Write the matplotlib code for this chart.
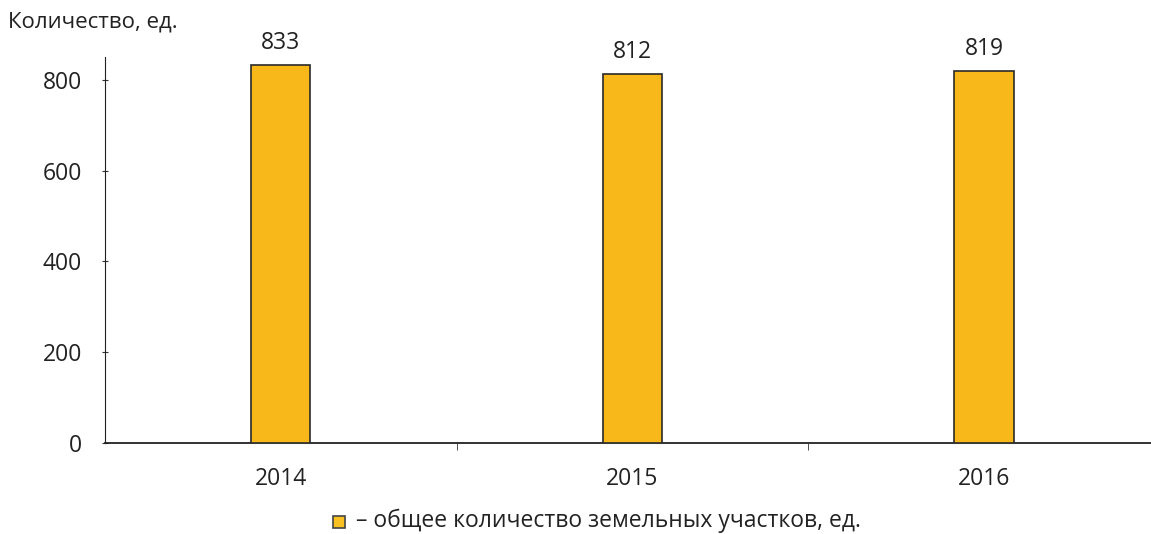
import matplotlib
matplotlib.use("Agg")
import matplotlib.pyplot as plt
from matplotlib.patches import Rectangle

years = ["2014", "2015", "2016"]
values = [833, 812, 819]
yticks = [0, 200, 400, 600, 800]
ylabel = "Количество, ед."
legend_label = "– общее количество земельных участков, ед."

plt.rcParams['font.family'] = ['Open Sans', 'DejaVu Sans']

fig = plt.figure(figsize=(11.51, 5.34), dpi=100)
ax = fig.add_axes([105/1151, (534-443)/534, (1151-105)/1151, (443-57)/534])

x = list(range(len(years)))
bars = ax.bar(x, values, width=0.168, color="#F8B819", edgecolor="#2a2a2a", linewidth=1.2, zorder=3)
for xi, v in zip(x, values):
    ax.text(xi, v + 22, str(v), ha="center", va="bottom", fontsize=16.5, color="#222222")

ax.set_xlim(-0.5, 2.475)
ax.set_ylim(0, 850)
ax.set_yticks(yticks)
ax.set_xticks(x)
ax.set_xticklabels(years)
ax.set_xticks([0.5, 1.5], minor=True)
ax.tick_params(axis="x", which="major", length=0, pad=17, labelsize=16.5, labelcolor="#222222")
ax.tick_params(axis="x", which="minor", length=5, direction="out", color="#333333")
ax.tick_params(axis="y", length=5, direction="inout", pad=14, labelsize=16.5, labelcolor="#222222", color="#333333")
for s in ["top", "right"]:
    ax.spines[s].set_visible(False)
ax.spines["left"].set_color("#222222")
ax.spines["bottom"].set_color("#222222")
ax.spines["bottom"].set_linewidth(1.3)

fig.text(8/1151, 1 - 22/534, ylabel, ha="left", va="center", fontsize=16, color="#222222")

# legend
sq_x, sq_y, sq = 333/1151, 1 - 528/534, 12
fig.patches.append(Rectangle((sq_x, sq_y), sq/1151, sq/534, transform=fig.transFigure,
                             facecolor="#F8C020", edgecolor="#444444", linewidth=1.2))
fig.text(356/1151, 1 - 521/534, legend_label, ha="left", va="center", fontsize=16.5, color="#222222")

fig.savefig("out.png", dpi=100)
